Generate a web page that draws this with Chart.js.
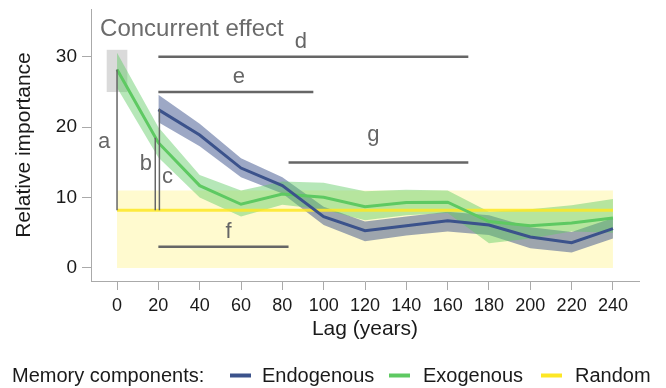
<!DOCTYPE html>
<html>
<head>
<meta charset="utf-8">
<script src="https://cdn.jsdelivr.net/npm/chart.js@4.4.1/dist/chart.umd.min.js"></script>
<style>
  html, body { margin: 0; padding: 0; background: #fff; }
</style>
</head>
<body>
<canvas id="chart" width="666" height="388"></canvas>
<script>
// lag in years
const lags = [0, 20, 40, 60, 80, 100, 120, 140, 160, 180, 200, 220, 240];

const endogenous = [null, 22.5, 18.9, 14.2, 11.7, 7.3, 5.3, 6.0, 6.7, 6.1, 4.4, 3.6, 5.6];
const endoHigh   = [null, 24.6, 20.5, 15.6, 12.9, 8.7, 6.6, 7.3, 8.0, 7.5, 5.8, 5.1, 7.1];
const endoLow    = [null, 20.7, 17.3, 12.9, 10.6, 6.1, 3.8, 4.6, 5.2, 4.7, 2.8, 2.2, 4.2];

const exogenous = [28.2, 17.8, 11.7, 9.05, 10.5, 10.05, 8.7, 9.3, 9.35, 6.6, 6.0, 6.4, 7.1];
const exoHigh   = [30.6, 20.0, 13.2, 11.0, 12.3, 12.1, 10.9, 11.1, 11.0, 8.0, 8.35, 8.9, 9.8];
const exoLow    = [25.6, 15.7, 10.0, 7.3, 9.0, 8.3, 6.8, 7.5, 7.8, 3.5, 4.2, 5.2, 5.0];

const random     = [8.2, 8.2, 8.2, 8.2, 8.2, 8.2, 8.2, 8.2, 8.2, 8.2, 8.2, 8.2, 8.2];
const randomHigh = [11, 11, 11, 11, 11, 11, 11, 11, 11, 11, 11, 11, 11];
const randomLow  = [0, 0, 0, 0, 0, 0, 0, 0, 0, 0, 0, 0, 0];

const xTicks = [0, 20, 40, 60, 80, 100, 120, 140, 160, 180, 200, 220, 240];
const yTicks = [0, 10, 20, 30];

const legendTitle = 'Memory components:';
const legendNames = ['Endogenous', 'Exogenous', 'Random'];

// concurrent effect box: lag range, value range
const concurrentLag = [-5, 5];
const concurrentVal = [25, 31];
const concurrentText = { text: 'Concurrent effect', lag: -8.2, val: 32.9 };

// horizontal spans: from lag, to lag, at value
const spans = [
  { from: 20, to: 170, at: 30 },
  { from: 20, to: 95, at: 25 },
  { from: 20, to: 83, at: 3 },
  { from: 83, to: 170, at: 15 }
];
// vertical bars: at lag, from value, to value
const bars = [
  { at: 0, from: 8.2, to: 28.2 },
  { at: 18.5, from: 8.2, to: 18.5 },
  { at: 20.5, from: 8.2, to: 22.6 }
];
// letter labels: lag / value of baseline centre
const letters = [
  { t: 'a', lag: -6.3, val: 17.1 },
  { t: 'b', lag: 14.0, val: 13.9 },
  { t: 'c', lag: 24.4, val: 12.1 },
  { t: 'd', lag: 89, val: 31.3 },
  { t: 'e', lag: 59, val: 26.3 },
  { t: 'f', lag: 54, val: 4.3 },
  { t: 'g', lag: 124, val: 18.0 }
];

const BLUE = '#3b528b', GREEN = '#5ec962', YELLOW = '#fde725';
const FONT = "'Liberation Sans', Arial, sans-serif";

const pts = arr => lags.map((l, i) => ({ x: l, y: arr[i] }));

const annotate = {
  id: 'annotate',
  beforeDatasetsDraw(chart) {
    const { ctx, scales: { x, y } } = chart;
    ctx.save();
    ctx.fillStyle = 'rgba(205,205,205,0.75)';
    const x0 = x.getPixelForValue(concurrentLag[0]), x1 = x.getPixelForValue(concurrentLag[1]);
    const y0 = y.getPixelForValue(concurrentVal[1]), y1 = y.getPixelForValue(concurrentVal[0]);
    ctx.fillRect(x0, y0, x1 - x0, y1 - y0);
    ctx.restore();
  },
  afterDatasetsDraw(chart) {
    const { ctx, scales: { x, y } } = chart;
    ctx.save();
    ctx.strokeStyle = '#666';
    ctx.lineWidth = 2.5;
    spans.forEach(s => {
      ctx.beginPath();
      ctx.moveTo(x.getPixelForValue(s.from), y.getPixelForValue(s.at));
      ctx.lineTo(x.getPixelForValue(s.to), y.getPixelForValue(s.at));
      ctx.stroke();
    });
    ctx.lineWidth = 1.5;
    bars.forEach(b => {
      ctx.beginPath();
      ctx.moveTo(x.getPixelForValue(b.at), y.getPixelForValue(b.from));
      ctx.lineTo(x.getPixelForValue(b.at), y.getPixelForValue(b.to));
      ctx.stroke();
    });
    ctx.fillStyle = '#666';
    ctx.font = '22px ' + FONT;
    ctx.textAlign = 'center';
    ctx.textBaseline = 'alphabetic';
    letters.forEach(l => ctx.fillText(l.t, x.getPixelForValue(l.lag), y.getPixelForValue(l.val)));
    ctx.font = '24px ' + FONT;
    ctx.textAlign = 'left';
    ctx.fillStyle = '#6b6b6b';
    ctx.fillText(concurrentText.text, x.getPixelForValue(concurrentText.lag), y.getPixelForValue(concurrentText.val));
    ctx.restore();
  },
  afterDraw(chart) {
    const ctx = chart.ctx;
    ctx.save();
    ctx.font = '20px ' + FONT;
    ctx.fillStyle = '#1a1a1a';
    ctx.textBaseline = 'alphabetic';
    ctx.textAlign = 'left';
    const base = 382;
    ctx.fillText(legendTitle, 12, base);
    const items = [
      { c: BLUE, m: 230, t: 262 },
      { c: GREEN, m: 389, t: 423 },
      { c: YELLOW, m: 541, t: 575 }
    ];
    items.forEach((it, i) => {
      ctx.strokeStyle = it.c;
      ctx.lineWidth = 4;
      ctx.beginPath();
      ctx.moveTo(it.m, 375.5);
      ctx.lineTo(it.m + 21, 375.5);
      ctx.stroke();
      ctx.fillText(legendNames[i], it.t, base);
    });
    ctx.restore();
  }
};

const band = (data, color, order, fill) => ({
  data: pts(data), borderWidth: 0, pointRadius: 0, backgroundColor: color,
  fill: fill ? '+1' : false, order: order
});
const line = (data, color, order) => ({
  data: pts(data), borderColor: color, borderWidth: 3, pointRadius: 0,
  fill: false, order: order
});

new Chart(document.getElementById('chart'), {
  type: 'line',
  data: {
    datasets: [
      band(randomHigh, 'rgba(253,231,37,0.22)', 30, true),
      band(randomLow, 'rgba(0,0,0,0)', 31, false),
      band(endoHigh, 'rgba(59,82,139,0.5)', 20, true),
      band(endoLow, 'rgba(0,0,0,0)', 21, false),
      band(exoHigh, 'rgba(94,201,98,0.45)', 10, true),
      band(exoLow, 'rgba(0,0,0,0)', 11, false),
      line(random, 'rgba(253,231,37,0.85)', 3),
      line(exogenous, GREEN, 2),
      line(endogenous, BLUE, 1)
    ]
  },
  options: {
    responsive: false,
    animation: false,
    devicePixelRatio: 1,
    layout: { padding: { top: 9, right: 27, bottom: 45, left: 0 } },
    elements: { line: { tension: 0 } },
    plugins: { legend: { display: false }, tooltip: { enabled: false } },
    scales: {
      x: {
        type: 'linear', min: -12.6, max: 252.6,
        afterBuildTicks: s => { s.ticks = xTicks.map(v => ({ value: v })); },
        afterFit: s => { s.height = 62; s.paddingLeft = 0; s.paddingRight = 0; },
        grid: { drawOnChartArea: false, drawTicks: true, tickLength: 9, color: '#aaa' },
        border: { display: true, color: '#aaa', width: 1 },
        ticks: { color: '#1a1a1a', font: { family: FONT, size: 18 }, padding: 5, maxRotation: 0, minRotation: 0, autoSkip: false },
        title: { display: true, text: 'Lag (years)', color: '#1a1a1a', font: { family: FONT, size: 21 }, padding: { top: 0, bottom: 1 } }
      },
      y: {
        min: -1.85, max: 36.8,
        afterBuildTicks: s => { s.ticks = yTicks.map(v => ({ value: v })); },
        afterFit: s => { s.width = 91; s.paddingTop = 0; s.paddingBottom = 0; },
        grid: { drawOnChartArea: false, drawTicks: true, tickLength: 9, color: '#aaa' },
        border: { display: true, color: '#aaa', width: 1 },
        ticks: { color: '#1a1a1a', font: { family: FONT, size: 19 }, padding: 5 },
        title: { display: true, text: 'Relative importance', color: '#1a1a1a', font: { family: FONT, size: 21 }, padding: { top: 12, bottom: 0 } }
      }
    }
  },
  plugins: [annotate]
});
</script>
</body>
</html>
